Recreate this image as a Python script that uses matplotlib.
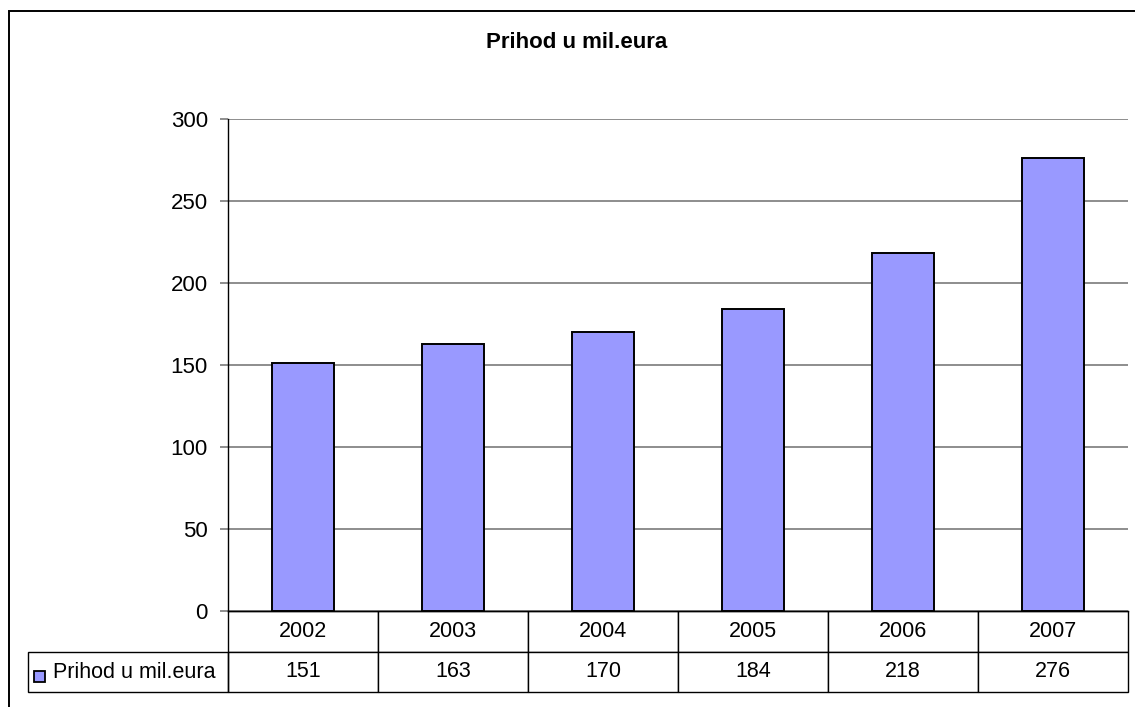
import matplotlib.pyplot as plt
from matplotlib.patches import Rectangle

# podaci
godine = ['2002', '2003', '2004', '2005', '2006', '2007']
prihod = [151, 163, 170, 184, 218, 276]
naziv_serije = 'Prihod u mil.eura'
naslov = 'Prihod u mil.eura'
y_ticks = [0, 50, 100, 150, 200, 250, 300]

BOJA = '#9999FF'
W, H = 1135, 707

plt.rcParams['font.family'] = ['Liberation Sans', 'DejaVu Sans']

fig = plt.figure(figsize=(W / 100, H / 100), dpi=100)

# okvir oko cijelog grafikona
fig.patches.append(Rectangle((9 / W, -0.1), 1.2, 1 - 11 / H + 0.1, transform=fig.transFigure,
                             fill=False, edgecolor='black', linewidth=1.4))

ax = fig.add_axes([228 / W, 1 - 611 / H, 900 / W, 492 / H])
x = range(len(godine))
ax.bar(x, prihod, width=0.41, color=BOJA, edgecolor='black', linewidth=1.4, zorder=3)

ax.set_xlim(-0.5, len(godine) - 0.5)
ax.set_ylim(0, 300)
ax.set_yticks(y_ticks)
ax.set_xticks([])
ax.yaxis.grid(True, color='#7a7a7a', linewidth=1.2)
ax.tick_params(axis='y', length=6, width=1.2, color='#7a7a7a', pad=8.5, labelsize=16)
for s in ['top', 'right']:
    ax.spines[s].set_visible(False)
ax.spines['left'].set_linewidth(1)
ax.spines['bottom'].set_linewidth(1)

fig.text(577 / W, 1 - 43 / H, naslov, ha='center', va='center', fontsize=16, fontweight='bold')

# tablica s podacima ispod osi
tbl = ax.table(cellText=[[str(v) for v in prihod]], colLabels=godine,
               cellLoc='center', bbox=[0, -81 / 492, 1, 81 / 492])
tbl.auto_set_font_size(False)
tbl.set_fontsize(15.5)
for (r, c), cell in tbl.get_celld().items():
    cell.set_linewidth(1)
    cell.set_edgecolor('black')

# legenda u tablici
ax.add_patch(Rectangle((-200 / 900, -81 / 492), 200 / 900, 40 / 492, transform=ax.transAxes,
                       fill=False, edgecolor='black', linewidth=1, clip_on=False))
ax.add_patch(Rectangle((-194 / 900, -71 / 492), 11 / 900, 11 / 492, transform=ax.transAxes,
                       facecolor=BOJA, edgecolor='black', linewidth=1.3, clip_on=False))
ax.text(-175 / 900, -61 / 492, naziv_serije, transform=ax.transAxes, ha='left', va='center',
        fontsize=15.5)

fig.savefig('out.png', dpi=100)
